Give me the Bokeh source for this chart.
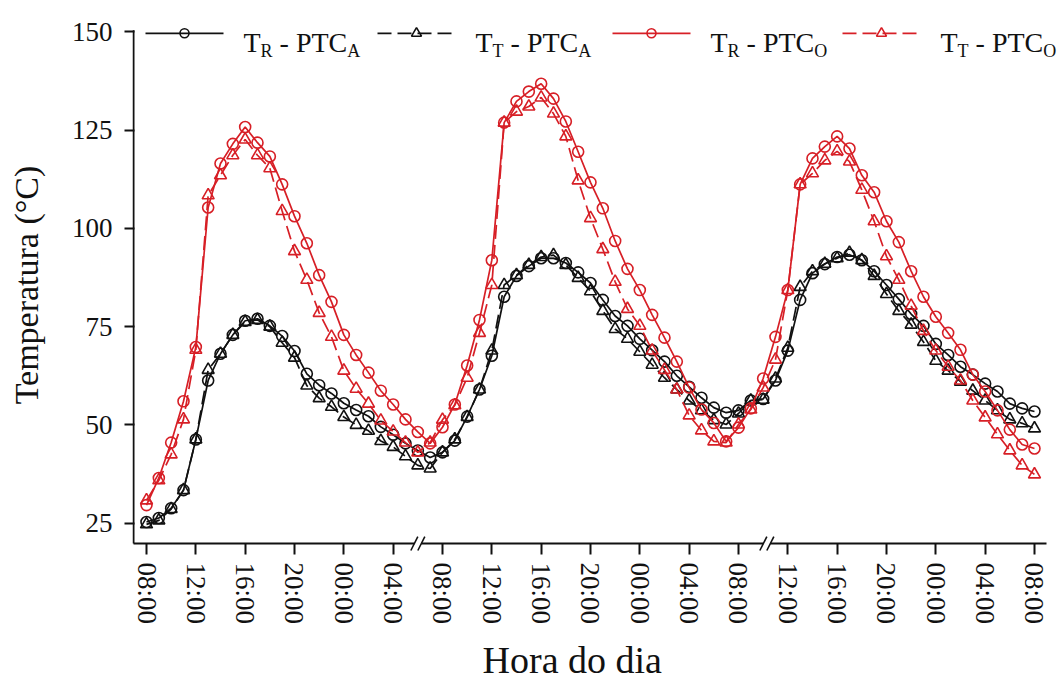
from bokeh.plotting import figure
from bokeh.models import FixedTicker, Range1d
from bokeh.core.properties import value
from bokeh.embed import file_html
from bokeh.resources import INLINE

# ---------------- data ----------------
hours = list(range(73))
tick_hours = [0, 4, 8, 12, 16, 20, 24, 28, 32, 36, 40, 44, 48, 52, 56, 60, 64, 68, 72]
tick_labels = ["08:00", "12:00", "16:00", "20:00", "00:00", "04:00",
               "08:00", "12:00", "16:00", "20:00", "00:00", "04:00",
               "08:00", "12:00", "16:00", "20:00", "00:00", "04:00", "08:00"]
y_ticks = [25, 50, 75, 100, 125, 150]
axis_breaks = [22.0, 50.3]

tr_ptca = [25.3, 26.3, 28.8, 33.4, 46.3, 61.3, 68.1, 72.9, 76.5, 77.0, 75.2, 72.6,
           68.8, 63.0, 60.1, 58.0, 55.5, 53.8, 52.2, 49.5, 47.5, 45.3, 43.5, 41.7,
           43.0, 46.0, 52.1, 59.0, 67.6, 82.6, 87.9, 90.4, 92.4, 92.4, 91.2, 88.8,
           86.1, 81.8, 77.7, 75.2, 71.9, 69.0, 66.1, 62.5, 59.7, 56.9, 54.4, 53.1,
           53.7, 56.2, 56.6, 61.3, 68.9, 81.8, 88.6, 90.9, 92.7, 93.3, 91.9, 89.1,
           85.6, 82.0, 78.2, 75.2, 70.6, 67.8, 64.8, 62.8, 60.5, 58.5, 55.4, 54.2, 53.4]
tt_ptca = [24.7, 25.7, 28.6, 33.4, 46.3, 64.0, 68.1, 72.9, 76.2, 76.7, 75.0, 70.9,
           67.1, 60.0, 56.8, 54.6, 52.0, 50.0, 48.5, 45.9, 44.4, 42.0, 39.7, 38.9,
           43.0, 46.3, 52.0, 59.0, 68.9, 85.6, 88.1, 90.7, 92.7, 93.2, 90.7, 87.4,
           84.0, 79.0, 74.4, 71.9, 68.6, 65.3, 62.0, 59.0, 56.2, 53.7, 51.2, 50.1,
           52.9, 56.2, 56.4, 61.8, 69.6, 85.1, 89.1, 91.0, 92.4, 93.8, 91.9, 87.9,
           83.3, 79.0, 75.5, 71.1, 66.3, 63.8, 61.0, 58.7, 56.2, 53.7, 51.4, 50.4, 49.1]
tr_ptco = [29.6, 36.5, 45.5, 56.0, 69.8, 105.3, 116.5, 121.5, 125.8, 121.8, 118.3, 111.2,
           103.1, 96.2, 88.1, 81.3, 72.9, 67.8, 63.3, 58.7, 55.2, 51.4, 48.2, 45.3,
           49.4, 55.2, 65.1, 76.7, 91.9, 126.9, 132.3, 134.8, 136.8, 133.0, 127.2, 119.5,
           111.7, 105.1, 96.8, 89.7, 84.3, 78.0, 72.2, 66.1, 59.5, 53.9, 50.5, 45.8,
           49.3, 54.2, 61.8, 72.4, 84.3, 111.2, 117.8, 120.8, 123.4, 120.3, 113.5, 109.2,
           101.8, 96.5, 89.1, 82.6, 77.5, 73.4, 69.1, 62.8, 58.5, 53.7, 48.8, 45.0, 44.0]
tt_ptco = [30.8, 35.9, 42.5, 51.4, 69.1, 108.4, 113.5, 118.6, 122.6, 118.6, 115.3, 104.4,
           94.2, 86.9, 78.5, 72.4, 63.8, 59.2, 55.4, 51.1, 48.3, 45.5, 43.0, 45.5,
           51.3, 55.0, 62.0, 73.4, 85.6, 126.9, 129.7, 131.0, 133.3, 129.2, 123.4, 112.2,
           102.6, 94.7, 86.4, 79.5, 75.2, 68.9, 64.0, 59.0, 52.4, 48.6, 45.8, 45.5,
           50.1, 53.9, 59.5, 66.6, 84.3, 111.2, 114.0, 117.3, 119.6, 117.0, 109.8, 101.8,
           92.9, 86.9, 80.3, 73.9, 68.9, 64.8, 61.3, 56.2, 51.9, 47.6, 43.5, 39.7, 37.4]

series_values = [tr_ptca, tt_ptca, tr_ptco, tt_ptco]
legend_main = ["T", "T", "T", "T"]
legend_sub1 = ["R", "T", "R", "T"]
legend_mid = ["- PTC", "- PTC", "- PTC", "- PTC"]
legend_sub2 = ["A", "A", "O", "O"]
x_title = "Hora do dia"
y_title = "Temperatura (°C)"

# ---------------- styles ----------------
BLACK = "#111111"
RED = "#d71f26"
DASH = "14 6"
styles = [
    dict(color=BLACK, dash="solid", marker="circle", size=11),
    dict(color=BLACK, dash=DASH, marker="triangle", size=12),
    dict(color=RED, dash="solid", marker="circle", size=11),
    dict(color=RED, dash=DASH, marker="triangle", size=12),
]
FONT = "Liberation Serif"
NBSP = "\u00a0"

W, H = 1059, 684
PXH = 12.333   # px per hour
PYV = 3.952    # px per degree


def hx(page_x):
    return (page_x - 146.0) / PXH


def vy(page_y):
    return 150.0 - (page_y - 31.5) / PYV


FL, FR, FT, FB = 132, 1059, 0, 555   # frame edges in page px
X0, X1 = hx(FL), hx(FR)
Y0, Y1 = vy(FB), vy(FT)

p = figure(width=W, height=H, output_backend="svg", toolbar_location=None,
           x_range=Range1d(X0, X1), y_range=Range1d(Y0, Y1),
           min_border_left=FL, min_border_right=W - FR, min_border_top=FT,
           min_border_bottom=H - FB)
p.grid.visible = False
p.outline_line_color = None
p.background_fill_color = "white"
p.border_fill_color = "white"

# axes
for ax in (p.xaxis, p.yaxis):
    ax.axis_line_color = None
    ax.minor_tick_line_color = None
    ax.major_tick_line_color = BLACK
    ax.major_tick_line_width = 2
    ax.major_label_text_font = FONT
    ax.major_label_text_font_size = "27px"
    ax.major_label_text_color = BLACK
    ax.axis_label_text_font = FONT
    ax.axis_label_text_font_style = "normal"
    ax.axis_label_text_color = BLACK

p.xaxis.ticker = FixedTicker(ticks=tick_hours)
p.xaxis.major_label_overrides = {h: l for h, l in zip(tick_hours, tick_labels)}
p.xaxis.major_label_orientation = "vertical"
p.xaxis.major_tick_in = 9
p.xaxis.major_tick_out = 2
p.xaxis.major_label_standoff = 8
p.xaxis.axis_label = x_title + NBSP * 5
p.xaxis.axis_label_text_font_size = "38px"
p.xaxis.axis_label_standoff = 12

p.yaxis.ticker = FixedTicker(ticks=y_ticks)
p.yaxis.major_tick_in = 2
p.yaxis.major_tick_out = 8
p.yaxis.major_label_standoff = 12
p.yaxis.axis_label = y_title + NBSP * 2
p.yaxis.axis_label_text_font_size = "34px"
p.yaxis.axis_label_standoff = 24

# manual axis lines (with breaks on x axis)
xl = hx(133)
xr = hx(1046)
yb = vy(546)
gap = 3.5 / PXH
xs0 = [xl]
xs1 = []
for b in axis_breaks:
    xs1.append(b - gap)
    xs0.append(b + gap)
xs1.append(xr)
p.segment(x0=xs0, y0=[yb] * len(xs0), x1=xs1, y1=[yb] * len(xs1),
          line_color=BLACK, line_width=2)
p.segment(x0=[xl], y0=[yb], x1=[xl], y1=[vy(30)], line_color=BLACK, line_width=2)
sx0, sy0, sx1, sy1 = [], [], [], []
for b in axis_breaks:
    for off in (-3.5, 3.5):
        c = b + off / PXH
        sx0.append(c - 3.5 / PXH)
        sy0.append(yb - 7 / PYV)
        sx1.append(c + 3.5 / PXH)
        sy1.append(yb + 7 / PYV)
p.segment(x0=sx0, y0=sy0, x1=sx1, y1=sy1, line_color=BLACK, line_width=1.6)

# series
for vals, st in zip(series_values, styles):
    p.line(hours, vals, line_color=st["color"], line_width=1.7, line_dash=st["dash"])
    p.scatter(hours, vals, marker=st["marker"], size=st["size"], fill_color=None,
              line_color=st["color"], line_width=1.6)

# legend (manual, with subscripts)
item_starts = [145, 377, 612, 842]
line_len = 78
text_off = 98
ly = vy(33)
base = vy(42)
sub_base = vy(51)
main_fs, sub_fs = 28, 18
w_ch = {"T": 0.611, "R": 0.667, "A": 0.722, "O": 0.722}
w_mid = (0.333 + 0.25 + 0.556 + 0.611 + 0.667)
for i, st in enumerate(styles):
    s = item_starts[i]
    p.line([hx(s), hx(s + line_len)], [ly, ly], line_color=st["color"], line_width=1.7,
           line_dash=st["dash"])
    p.scatter([hx(s + line_len / 2)], [ly], marker=st["marker"], size=st["size"] - 2,
              fill_color=None, line_color=st["color"], line_width=1.6)
    t0 = s + text_off
    x_sub1 = t0 + w_ch[legend_main[i]] * main_fs
    x_mid = x_sub1 + w_ch[legend_sub1[i]] * sub_fs + 0.25 * main_fs
    x_sub2 = x_mid + w_mid * main_fs
    pieces = [(t0, base, legend_main[i], main_fs), (x_sub1, sub_base, legend_sub1[i], sub_fs),
              (x_mid, base, legend_mid[i], main_fs), (x_sub2, sub_base, legend_sub2[i], sub_fs)]
    for (px_, py_, txt, fs) in pieces:
        p.text(x=[hx(px_)], y=[py_], text=[txt], text_font=value(FONT),
               text_font_size=value(f"{fs}px"), text_baseline="alphabetic",
               text_align="left", text_color=BLACK)

open("out.html", "w").write(file_html(p, INLINE))
